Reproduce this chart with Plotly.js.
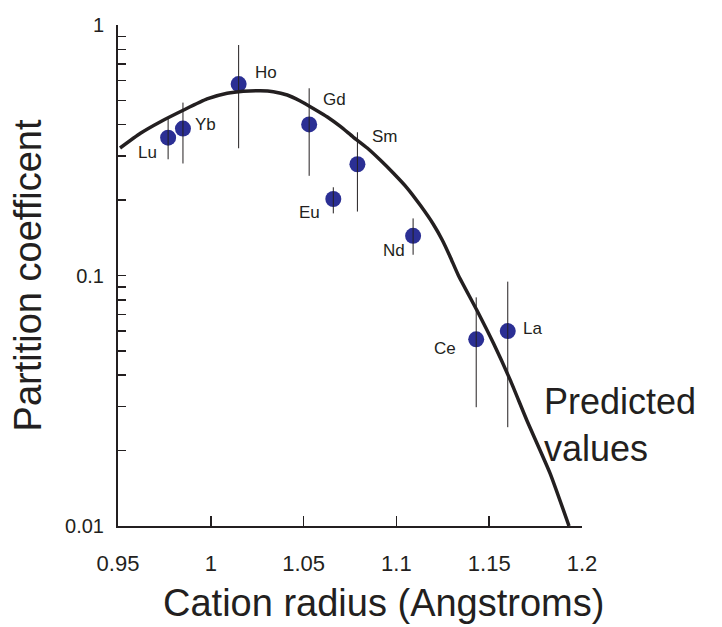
<!DOCTYPE html>
<html>
<head>
<meta charset="utf-8">
<script src="https://cdn.plot.ly/plotly-3.0.1.min.js"></script>
<style>
  html, body { margin: 0; padding: 0; background: #ffffff; }
  #chart { width: 722px; height: 627px; }
</style>
</head>
<body>
<div id="chart"></div>
<script>
// Measured partition coefficients (REE), cation radius in Angstroms
const elements = ['Lu', 'Yb', 'Ho', 'Gd', 'Sm', 'Eu', 'Nd', 'Ce', 'La'];
const radius   = [0.977, 0.985, 1.015, 1.053, 1.079, 1.066, 1.109, 1.143, 1.160];
const partCoef = [0.355, 0.386, 0.581, 0.401, 0.278, 0.202, 0.144, 0.0556, 0.0600];
const errHigh  = [0.424, 0.490, 0.832, 0.559, 0.373, 0.225, 0.169, 0.0818, 0.0945];
const errLow   = [0.291, 0.280, 0.322, 0.250, 0.180, 0.177, 0.121, 0.0298, 0.0248];

// Predicted values (lattice strain curve)
const predX = [0.9511, 0.9621, 0.9729, 0.9854, 0.9980, 1.0088, 1.0175, 1.0267, 1.0337,
               1.0412, 1.0482, 1.0552, 1.0628, 1.0698, 1.0767, 1.0843, 1.0913, 1.0983,
               1.1058, 1.1128, 1.1198, 1.1247, 1.1290, 1.1333, 1.1433, 1.1523, 1.1613,
               1.1702, 1.1828, 1.1930];
const predY = [0.3228, 0.3696, 0.4111, 0.4577, 0.5066, 0.5338, 0.5438, 0.5463, 0.5418,
               0.5256, 0.4973, 0.4642, 0.4293, 0.3934, 0.3571, 0.3228, 0.2891, 0.2566,
               0.2235, 0.1911, 0.1606, 0.1386, 0.1186, 0.1005, 0.0728, 0.0536, 0.0383,
               0.0265, 0.01623, 0.0100];

// Axis ticks
const xTickVals = [0.95, 1, 1.05, 1.1, 1.15, 1.2];
const xTickText = ['0.95', '1', '1.05', '1.1', '1.15', '1.2'];
const yTickVals = [0.01, 0.02, 0.03, 0.04, 0.05, 0.06, 0.07, 0.08, 0.09,
                   0.1, 0.2, 0.3, 0.4, 0.5, 0.6, 0.7, 0.8, 0.9, 1];
const yTickText = ['0.01', '', '', '', '', '', '', '', '',
                   '0.1', '', '', '', '', '', '', '', '', '1'];

// Label offsets (pixels) for element names
const labelDX = [-21, 23, 27, 25, 28, -24, -19, -31, 25];
const labelDY = [-15, 4, 12, 25, 28, -13, -15, -9, 3];

const ink = '#231f20';
const dotColor = '#2b2f94';
const FONT = 'Liberation Sans, Arial, Helvetica, sans-serif';

const traceDots = {
  type: 'scatter', mode: 'markers',
  x: radius, y: partCoef,
  marker: { color: dotColor, size: 16, line: { width: 0 } },
  hoverinfo: 'x+y', showlegend: false
};

const traceErr = {
  type: 'scatter', mode: 'markers',
  x: radius, y: partCoef,
  marker: { color: 'rgba(0,0,0,0)', size: 1 },
  error_y: {
    type: 'data', symmetric: false,
    array: errHigh.map((h, i) => h - partCoef[i]),
    arrayminus: errLow.map((l, i) => partCoef[i] - l),
    width: 0, thickness: 1, color: ink
  },
  hoverinfo: 'skip', showlegend: false
};

const tracePred = {
  type: 'scatter', mode: 'lines',
  x: predX, y: predY,
  line: { color: ink, width: 3.5, shape: 'spline', smoothing: 0.5 },
  hoverinfo: 'skip', showlegend: false
};

// empty helper trace so the title-carrying axis (x2) is laid out
const traceTitleAxis = {
  type: 'scatter', mode: 'markers', x: [], y: [],
  xaxis: 'x2', yaxis: 'y', hoverinfo: 'skip', showlegend: false
};

const annotations = elements.map((el, i) => ({
  x: radius[i], y: Math.log10(partCoef[i]), xref: 'x', yref: 'y',
  text: el, showarrow: false,
  xshift: labelDX[i], yshift: labelDY[i],
  font: { family: FONT, size: 17, color: ink }
}));

annotations.push({
  x: 1.1785, y: Math.log10(0.0252), xref: 'x', yref: 'y',
  xanchor: 'left', yanchor: 'middle', align: 'left',
  text: 'Predicted<br>values', showarrow: false,
  font: { family: FONT, size: 36, color: ink }
});

const layout = {
  width: 722, height: 627,
  margin: { l: 117.5, r: 140, t: 25, b: 101 },
  paper_bgcolor: '#ffffff', plot_bgcolor: 'rgba(0,0,0,0)',
  showlegend: false,
  font: { family: FONT, color: ink },
  xaxis: {
    range: [0.95, 1.2],
    showgrid: false, zeroline: false,
    showline: true, linecolor: ink, linewidth: 2,
    ticks: 'inside', ticklen: 10, tickwidth: 1.5, tickcolor: ink,
    tickvals: xTickVals, ticktext: xTickText,
    ticklabelstandoff: 17,
    tickfont: { family: FONT, size: 22, color: ink }
  },
  xaxis2: {
    domain: [0.1454, 1], anchor: 'y', range: [0, 1],
    showline: false, showgrid: false, zeroline: false,
    showticklabels: false, ticks: '',
    title: { text: 'Cation radius (Angstroms)', standoff: 63,
             font: { family: FONT, size: 38, color: ink } }
  },
  yaxis: {
    type: 'log', range: [-2, 0],
    showgrid: false, zeroline: false,
    showline: true, linecolor: ink, linewidth: 2,
    ticks: 'inside', ticklen: 8, tickwidth: 1.5, tickcolor: ink,
    tickvals: yTickVals, ticktext: yTickText,
    ticklabelstandoff: 8,
    tickfont: { family: FONT, size: 20, color: ink },
    title: { text: 'Partition coefficent', standoff: 12,
             font: { family: FONT, size: 38, color: ink } }
  },
  annotations: annotations
};

Plotly.newPlot('chart', [traceDots, traceErr, tracePred, traceTitleAxis], layout,
  { displayModeBar: false, staticPlot: true });
</script>
</body>
</html>
